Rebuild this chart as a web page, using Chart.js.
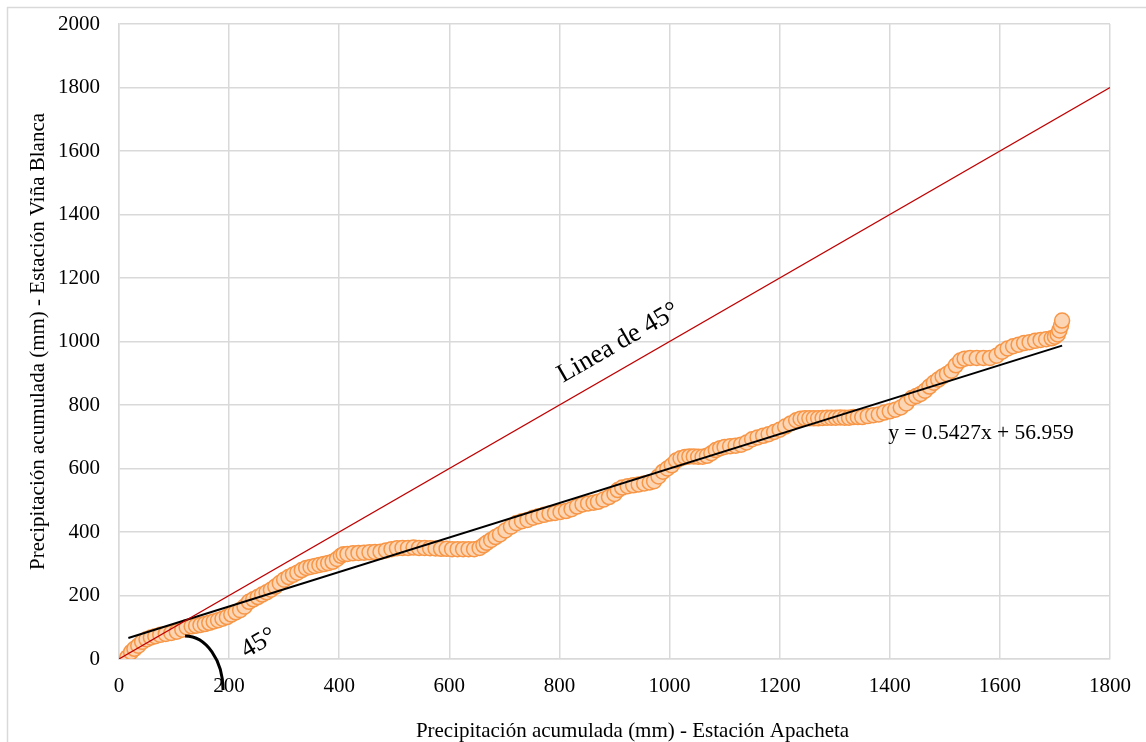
<!DOCTYPE html>
<html>
<head>
<meta charset="utf-8">
<script src="https://cdn.jsdelivr.net/npm/chart.js@4"></script>
<style>
  html, body { margin: 0; padding: 0; background: #fff; }
  #wrap { width: 1146px; height: 742px; }
</style>
</head>
<body>
<div id="wrap"><canvas id="chart" width="1146" height="742"></canvas></div>
<script>
// cumulative precipitation (mm)
const apacheta = [
  15, 22, 28, 35, 42, 50, 58, 66, 75, 85, 95, 105, 115, 123, 132, 140, 148, 156, 164, 172,
  180, 188, 196, 204, 212, 220, 228, 236, 244, 252, 260, 268, 276, 284, 292, 300, 308, 316, 324, 332,
  340, 348, 356, 364, 372, 380, 388, 396, 403, 408,
  415, 425, 435, 445, 455, 465, 475, 485, 495, 505, 515, 525, 535, 545, 555, 565, 575, 585, 595, 605,
  615, 625, 635, 645, 655,
  662, 668, 676, 684, 692, 702, 712, 722, 732, 742, 752, 762, 772, 782, 792, 802, 812, 822, 832, 842,
  852, 862, 870, 880, 890, 900, 906, 914, 924, 934, 944, 954, 964, 972, 980, 988, 996, 1004,
  1012, 1020, 1028, 1036, 1044, 1052, 1060, 1068, 1076, 1084, 1092, 1100, 1110, 1120, 1130, 1140, 1150, 1160, 1170, 1180,
  1190, 1200, 1210, 1220, 1230, 1238, 1246, 1254, 1262, 1270, 1278, 1286, 1294, 1302, 1310, 1318, 1326, 1334, 1342, 1350,
  1360, 1370, 1380, 1390, 1400, 1410, 1420, 1430, 1440, 1448, 1456, 1464, 1472, 1480, 1488, 1496, 1504, 1512, 1520, 1528,
  1536, 1546, 1558, 1570, 1582, 1594, 1604, 1614, 1624, 1634, 1644, 1654, 1664, 1674, 1684, 1694, 1700, 1705, 1708, 1711,
  1713
];
const vinaBlanca = [
  5, 22, 32, 42, 54, 62, 68, 72, 76, 79, 82, 86, 92, 100, 103, 105, 107, 110, 114, 118,
  122, 127, 132, 140, 147, 154, 165, 180, 188, 195, 203, 210, 218, 228, 239, 250, 258, 265, 272, 280,
  287, 290, 293, 296, 299, 302, 306, 315, 325, 330,
  331, 333, 334, 335, 336, 337, 338, 342, 346, 349, 350, 350, 351, 350, 350, 349, 348, 347, 347, 346,
  346, 346, 346, 346, 350,
  358, 366, 375, 384, 392, 405, 417, 428, 434, 438, 445, 450, 454, 458, 460, 463, 466, 472, 480, 487,
  490, 492, 495, 502, 510, 520, 532, 540, 544, 547, 550, 553, 556, 560, 575, 590, 600, 610,
  625, 632, 636, 638, 638, 637, 637, 640, 648, 658, 664, 668, 670, 672, 675, 682, 692, 698, 703, 708,
  715, 722, 732, 742, 752, 757, 758, 758, 758, 758, 759, 760, 760, 760, 761, 760, 760, 762, 762, 762,
  765, 768, 770, 776, 780, 785, 792, 805, 822, 828, 835, 845, 858, 870, 880, 890, 898, 908, 925, 940,
  946, 948, 948, 948, 948, 955, 968, 978, 985, 990, 995, 998, 1002, 1005, 1007, 1010, 1015, 1022, 1035, 1050,
  1066
];

// 45 degree reference line and the fitted trend line (end points)
const line45X = [0, 1800];
const line45Y = [0, 1800];
const trendX = [17, 1713];
const trendY = [66, 987];
const trendLabel = 'y = 0.5427x + 56.959';
const xTitle = 'Precipitación acumulada (mm) - Estación Apacheta';
const yTitle = 'Precipitación acumulada (mm) - Estación Viña Blanca';

const toPts = (xs, ys) => xs.map((x, i) => ({ x: x, y: ys[i] }));

const serif = '"Liberation Serif", "Times New Roman", serif';
const grid = '#d9d9d9';

const decor = {
  id: 'decor',
  beforeDraw(chart) {
    const ctx = chart.ctx;
    ctx.save();
    ctx.fillStyle = '#fff';
    ctx.fillRect(0, 0, chart.width, chart.height);
    ctx.strokeStyle = grid;
    ctx.lineWidth = 1.5;
    ctx.strokeRect(7.5, 7.5, chart.width + 20, chart.height + 20);
    ctx.restore();
  },
  afterDraw(chart) {
    const ctx = chart.ctx;
    const xs = chart.scales.x, ys = chart.scales.y;
    const ang = Math.atan2(ys.getPixelForValue(1800) - ys.getPixelForValue(0),
                           xs.getPixelForValue(1800) - xs.getPixelForValue(0));
    ctx.save();
    ctx.fillStyle = '#000';
    ctx.textAlign = 'center';
    ctx.textBaseline = 'middle';

    // x axis title (sits a little right of the plot centre in the original)
    ctx.font = '21px ' + serif;
    ctx.fillText(xTitle, (xs.left + xs.right) / 2 + 18, chart.height - 11);

    // "Linea de 45°"
    ctx.save();
    ctx.translate(xs.getPixelForValue(907), ys.getPixelForValue(995));
    ctx.rotate(ang);
    ctx.font = '26.5px ' + serif;
    ctx.fillText('Linea de 45°', 0, 0);
    ctx.restore();

    // "45°" near origin
    ctx.save();
    ctx.translate(xs.getPixelForValue(254), ys.getPixelForValue(50));
    ctx.rotate(ang);
    ctx.font = '26px ' + serif;
    ctx.fillText('45°', 0, 0);
    ctx.restore();

    // trend equation
    ctx.font = '21.5px ' + serif;
    ctx.textAlign = 'left';
    ctx.fillText(trendLabel, xs.getPixelForValue(1397), ys.getPixelForValue(712));

    // angle arc
    ctx.beginPath();
    ctx.strokeStyle = '#000';
    ctx.lineWidth = 3;
    ctx.ellipse(xs.getPixelForValue(120), ys.getPixelForValue(-98), 38, 54, 0, -Math.PI / 2, 0);
    ctx.stroke();
    ctx.restore();
  }
};

new Chart(document.getElementById('chart'), {
  type: 'scatter',
  data: {
    datasets: [
      {
        label: 'Línea de 45°',
        data: toPts(line45X, line45Y),
        showLine: true,
        borderColor: '#c00000',
        borderWidth: 1.2,
        pointRadius: 0,
        pointHoverRadius: 0
      },
      {
        label: 'Tendencia',
        data: toPts(trendX, trendY),
        showLine: true,
        borderColor: '#000',
        borderWidth: 2,
        pointRadius: 0,
        pointHoverRadius: 0
      },
      {
        label: 'Precipitación acumulada',
        data: toPts(apacheta, vinaBlanca),
        backgroundColor: '#fcd5b4',
        borderColor: '#f79646',
        borderWidth: 1.5,
        pointRadius: 7.5,
        pointHoverRadius: 7.5
      }
    ]
  },
  options: {
    responsive: false,
    animation: false,
    events: [],
    layout: { padding: { top: 24, right: 36, left: 0, bottom: 0 } },
    plugins: {
      legend: { display: false },
      tooltip: { enabled: false }
    },
    scales: {
      x: {
        type: 'linear',
        min: 0,
        max: 1800,
        ticks: { stepSize: 200, padding: 15, color: '#000', font: { family: serif, size: 21 },
                 callback: (v) => String(v) },
        grid: { color: grid, lineWidth: 1.5, drawTicks: false },
        border: { color: grid, width: 1.5 },
        title: { display: false },
        afterFit(scale) { scale.height = 83; }
      },
      y: {
        type: 'linear',
        min: 0,
        max: 2000,
        ticks: { stepSize: 200, padding: 4, color: '#000', font: { family: serif, size: 21 },
                 callback: (v) => String(v) },
        grid: { color: grid, lineWidth: 1.5, drawTicks: true, tickLength: 15, tickColor: 'rgba(0,0,0,0)' },
        border: { color: grid, width: 1.5 },
        title: {
          display: true,
          text: yTitle,
          color: '#000',
          font: { family: serif, size: 21 },
          padding: { top: 26, bottom: 0 }
        },
        afterFit(scale) { scale.width = 119; }
      }
    }
  },
  plugins: [decor]
});
</script>
</body>
</html>
